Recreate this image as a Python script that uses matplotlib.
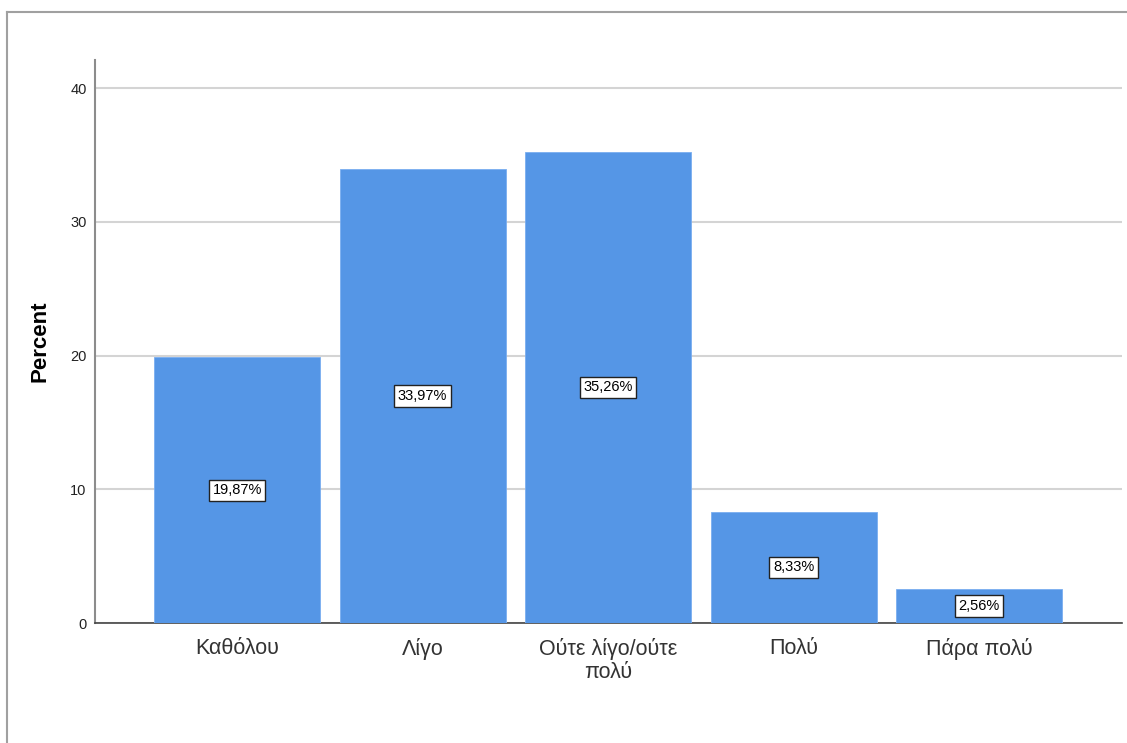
import matplotlib
matplotlib.use("Agg")
import matplotlib.pyplot as plt
from matplotlib.lines import Line2D

plt.rcParams['font.family'] = ['Liberation Sans', 'DejaVu Sans']

categories = ['Καθόλου', 'Λίγο', 'Ούτε λίγο/ούτε\nπολύ', 'Πολύ', 'Πάρα πολύ']
percent = [19.87, 33.97, 35.26, 8.33, 2.56]
yticks = [0, 10, 20, 30, 40]

fig = plt.figure(figsize=(11.27, 7.43), dpi=100)
ax = fig.add_axes([0.0843, 0.1615, 0.9113, 0.7575])

x = list(range(len(categories)))
ax.bar(x, percent, width=0.895, color='#5596e6', edgecolor='#7aaef0',
       linewidth=0.6, zorder=3)

# value boxes at half height of each bar
for xi, v in zip(x, percent):
    ax.text(xi, v / 2, f'{v:.2f}%'.replace('.', ','), ha='center', va='center',
            fontsize=10.5, color='black', zorder=4,
            bbox=dict(boxstyle='square,pad=0.25', fc='white', ec='#222222', lw=1))

ax.set_xlim(-0.766, 4.77)
ax.set_ylim(0, 42.1)
ax.set_yticks(yticks)
ax.set_yticklabels([str(t) for t in yticks], fontsize=10.5, color='#222222')
ax.set_xticks(x)
ax.set_xticklabels(categories, fontsize=15.5, color='#333333', linespacing=1.1)
ax.tick_params(axis='both', length=0)
ax.tick_params(axis='y', pad=6)
ax.tick_params(axis='x', pad=11)

ax.yaxis.grid(True, color='#d4d4d4', linewidth=1.5, zorder=0)
ax.set_axisbelow(True)
for s in ['top', 'right']:
    ax.spines[s].set_visible(False)
ax.spines['left'].set_color('#8c8c8c')
ax.spines['left'].set_linewidth(1.5)
ax.spines['bottom'].set_color('#444444')
ax.spines['bottom'].set_linewidth(1.2)

ax.set_ylabel('Percent', fontsize=16, fontweight='bold', labelpad=14)

# outer frame on left and top
fig.add_artist(Line2D([7 / 1127, 7 / 1127], [0, 1 - 12 / 743], transform=fig.transFigure,
                      color='#a0a0a0', lw=1.5))
fig.add_artist(Line2D([7 / 1127, 1], [1 - 12 / 743, 1 - 12 / 743], transform=fig.transFigure,
                      color='#a0a0a0', lw=1.5))

fig.savefig('out.png', dpi=100)
